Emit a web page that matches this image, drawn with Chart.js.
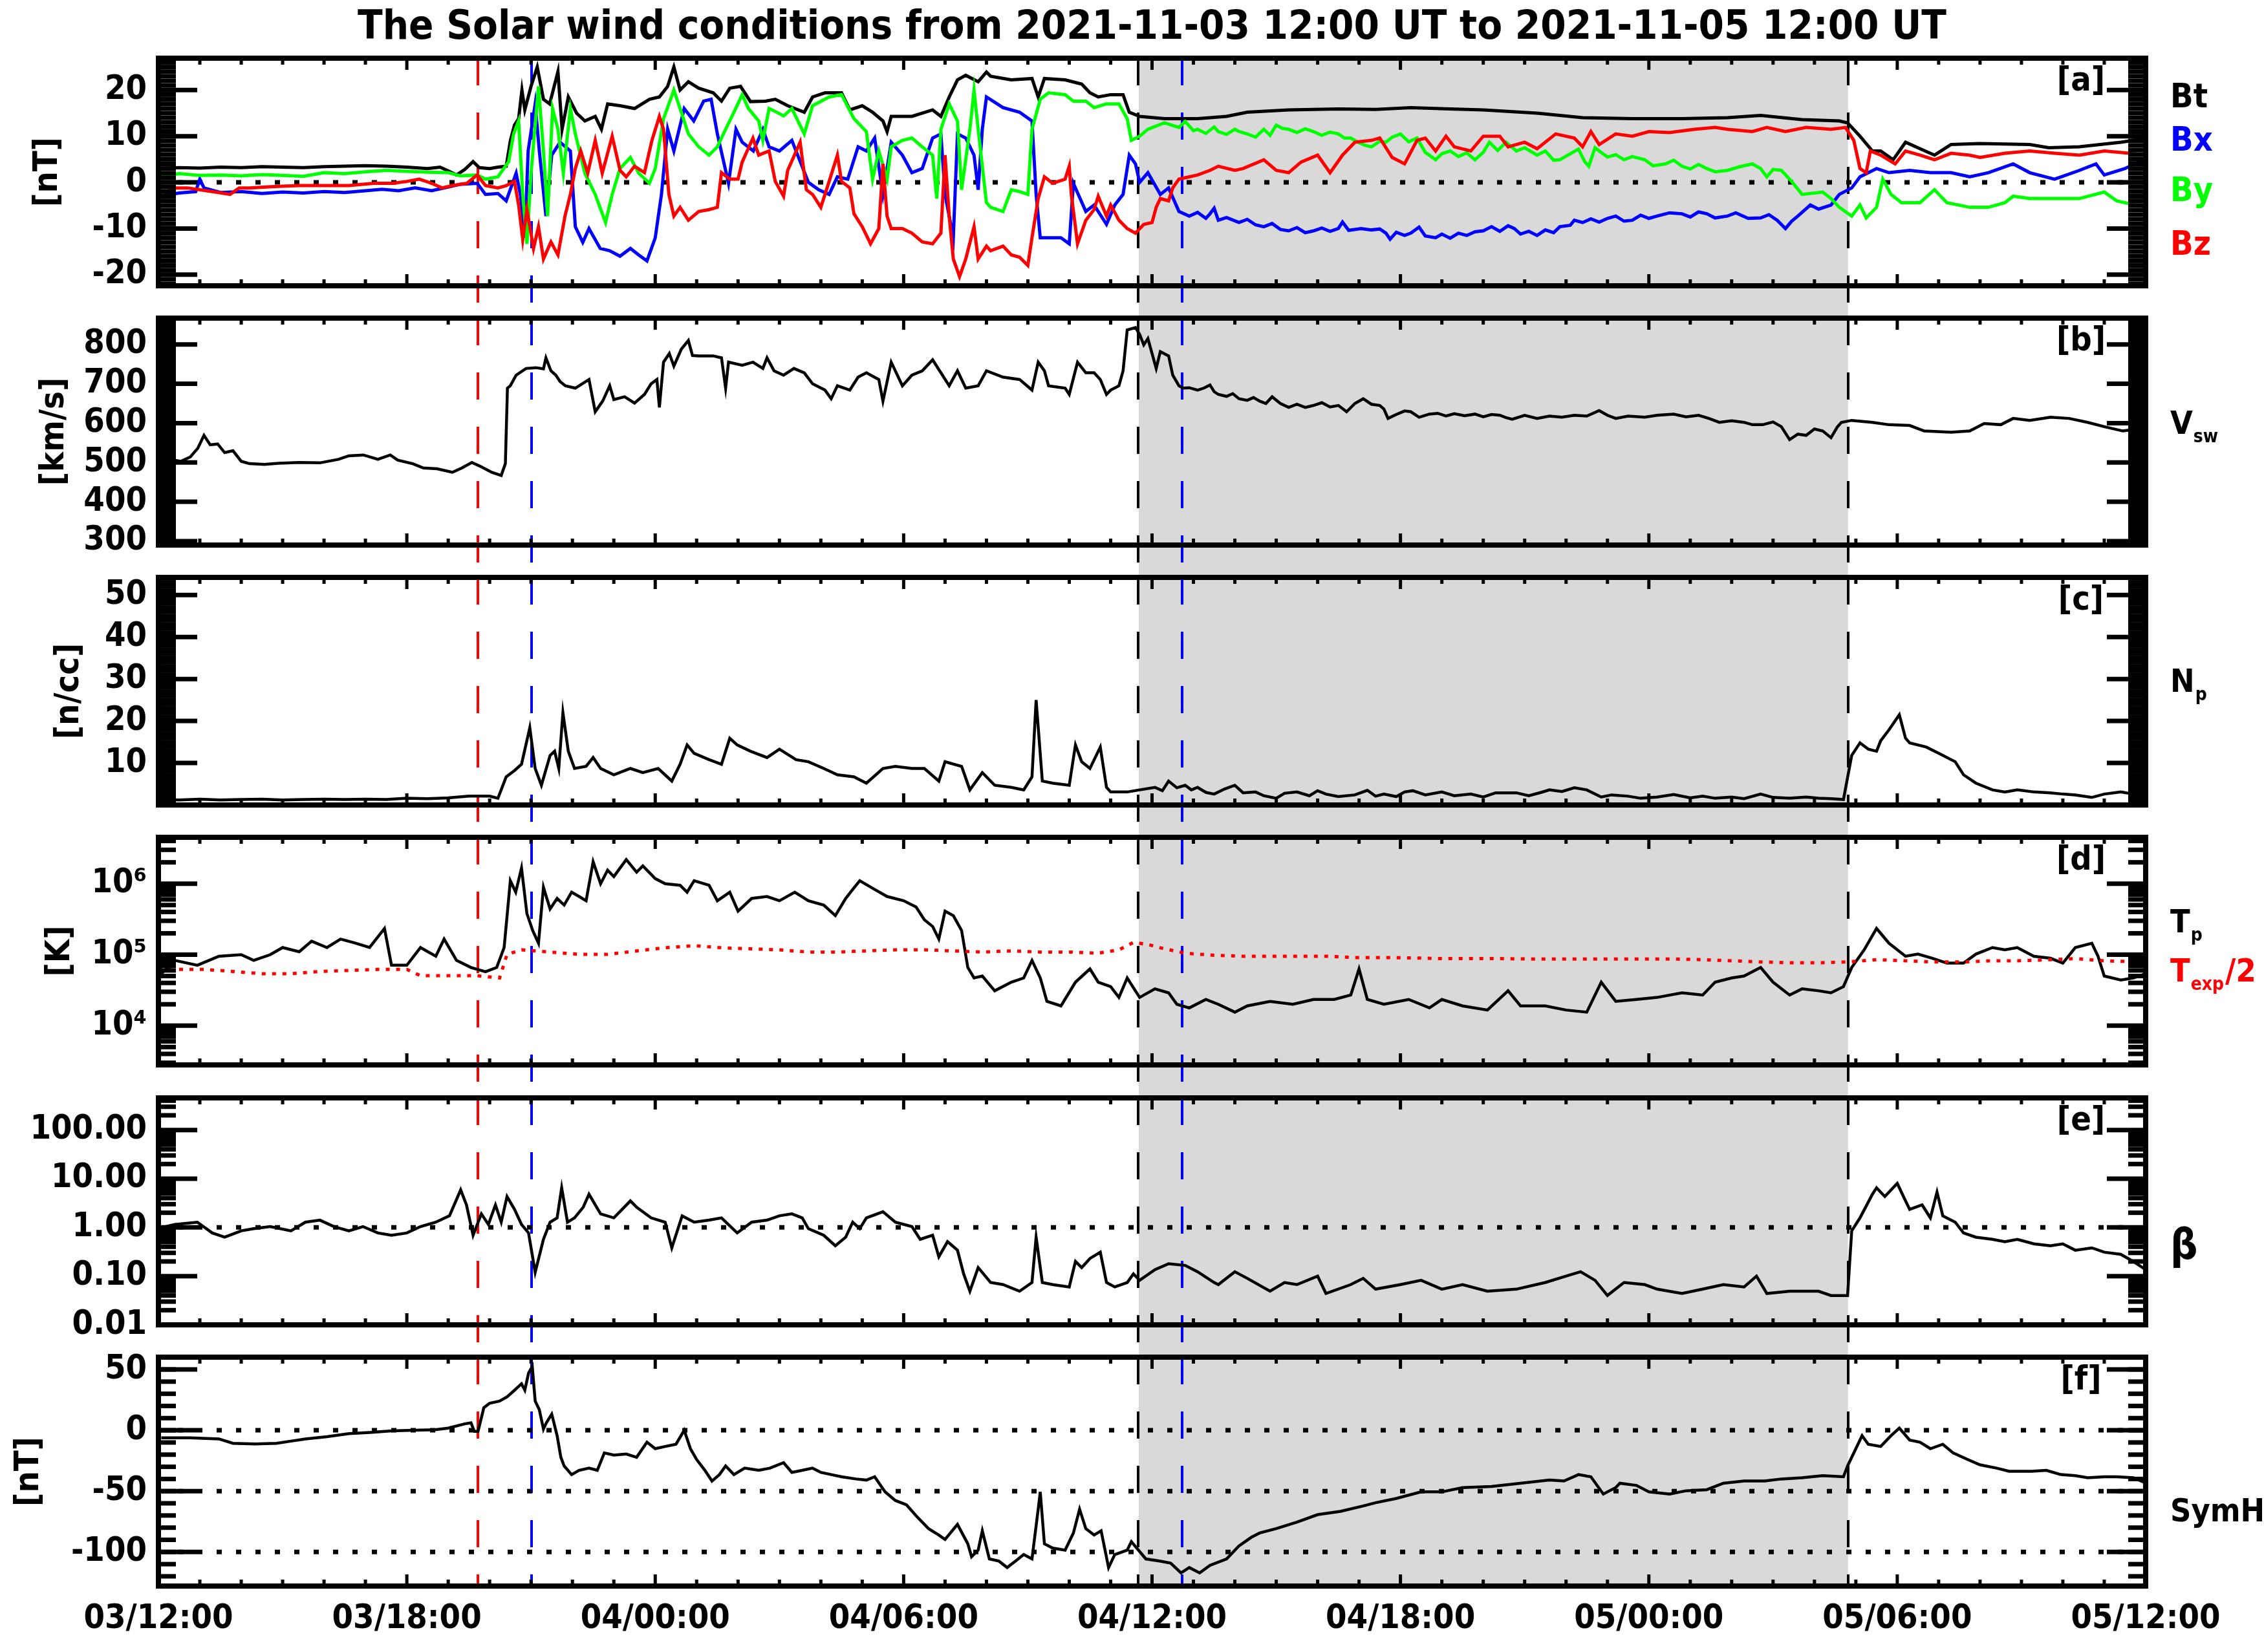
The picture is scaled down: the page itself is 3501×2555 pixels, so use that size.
<!DOCTYPE html>
<html><head><meta charset="utf-8">
<script src="https://cdn.jsdelivr.net/npm/chart.js@4.4.1/dist/chart.umd.min.js"></script>
<style>
html,body{margin:0;padding:0;background:#fff;width:3501px;height:2555px;overflow:hidden;}
canvas{position:absolute;left:0;}
</style></head><body>
<script>
// ---------------- DATA (hours after 2021-11-03 12:00 UT, value) ----------------
const X_TICK_HOURS = [0,6,12,18,24,30,36,42,48];
const X_TICK_LABELS = ['03/12:00','03/18:00','04/00:00','04/06:00','04/12:00','04/18:00','05/00:00','05/06:00','05/12:00'];
const EVENT_HOURS = [7.72, 9.01, 23.67, 24.73, 40.81];
const EVENT_COLORS = ['#ff0000','#0000ff','#000000','#0000ff','#000000'];
const SHADE_HOURS = [23.68, 40.81];

const BT = [[0,3.0],[0.5,3.2],[1,3.1],[1.5,3.3],[2,3.2],[2.5,3.4],[3,3.3],[3.5,3.2],[4,3.4],[4.5,3.5],[5,3.6],[5.5,3.5],[6,3.3],[6.5,3.0],[6.8,3.3],[7.0,2.5],[7.2,1.6],[7.4,2.8],[7.6,4.5],[7.75,3.2],[8.0,3.0],[8.2,3.3],[8.4,3.5],[8.5,9.0],[8.6,12.4],[8.7,13.8],[8.78,20],[8.85,15.7],[9.0,20.8],[9.15,25],[9.3,18],[9.45,17],[9.65,24],[9.75,11.5],[9.9,18.5],[10.1,15],[10.3,13.3],[10.55,14.3],[10.7,11.5],[10.85,17],[11.15,16.6],[11.5,16],[11.86,18],[12.1,18.5],[12.3,20.8],[12.45,25],[12.6,20],[12.8,21.8],[13.05,20.4],[13.4,19.4],[13.6,17.6],[13.8,20.4],[14.06,20.8],[14.3,17.5],[14.66,17.6],[14.9,18],[15.2,16.6],[15.6,15.2],[15.8,18.5],[16.1,19.4],[16.5,19.4],[16.7,15.7],[17.0,16.6],[17.25,15.2],[17.5,13.3],[17.6,11],[17.7,14.3],[18.2,14.3],[18.7,15.7],[18.9,14.3],[19.1,18.5],[19.3,22.2],[19.5,23.2],[19.8,21.8],[20.0,23.9],[20.1,23],[20.6,22.2],[21.1,22.5],[21.25,18.5],[21.4,22.5],[21.9,22.2],[22.3,21.3],[22.5,19.4],[22.7,18.5],[23.0,19],[23.3,19],[23.45,15.2],[23.7,14.3],[24.3,13.8],[25.1,13.8],[25.8,14.3],[26.3,15.2],[27.3,15.7],[28.5,15.9],[29.4,15.8],[30.25,16.2],[31.2,15.9],[32.0,15.7],[33.3,15],[34.4,14],[35.6,13.8],[36.8,13.8],[37.9,14],[38.7,14.5],[39.7,13.6],[40.6,13.3],[40.8,12.9],[41.1,10],[41.4,6.8],[41.6,6.8],[41.9,4.9],[42.2,8.7],[42.55,7.3],[42.9,5.9],[43.3,8.2],[44.0,8.4],[45.2,8.2],[45.66,7.5],[46.4,7.7],[47.4,8.7],[48,9.5]];

const BX = [[0,-3],[0.5,-2.3],[0.9,-2.0],[1.0,0.7],[1.1,-1.2],[1.5,-2.2],[2,-2.0],[2.5,-2.4],[3,-2.1],[3.5,-2.3],[4,-2.0],[4.5,-2.2],[5,-1.8],[5.4,-1.5],[5.8,-1.8],[6.2,-1.2],[6.6,-1.8],[7.0,-1.0],[7.3,-0.4],[7.7,-0.2],[7.9,-2.6],[8.2,-2.4],[8.4,-4],[8.64,2],[8.75,-3],[8.85,-12],[8.93,6.8],[9.1,17],[9.2,6.8],[9.36,-7.3],[9.5,5.9],[9.7,8.7],[9.95,6.8],[10.07,-9.6],[10.25,-13],[10.4,-10],[10.67,-14.3],[10.9,-14.8],[11.15,-16],[11.4,-14.3],[11.6,-15.7],[11.8,-17],[12.0,-12],[12.15,-2.6],[12.3,11.5],[12.45,6.8],[12.7,16],[12.93,13.3],[13.17,17.6],[13.35,18],[13.5,10.5],[13.77,-0.2],[13.95,11.5],[14.1,8.7],[14.37,6.8],[14.6,11.5],[14.75,7.7],[15.0,6.8],[15.3,9.1],[15.7,0],[15.95,-1.6],[16.2,-2.6],[16.4,1.2],[16.65,0.7],[16.9,7.7],[17.1,6.8],[17.3,9.6],[17.5,-2.6],[17.7,8.7],[17.97,5.9],[18.2,2.1],[18.45,3],[18.7,9.6],[18.9,10.5],[19.0,-2.6],[19.2,-12],[19.3,10.5],[19.5,9.6],[19.7,5.9],[19.8,-1.6],[19.9,11.5],[20.0,18.5],[20.4,16.2],[20.8,15.2],[21.1,13.3],[21.2,-2.6],[21.3,-12],[21.8,-12],[22.0,-13.3],[22.1,-0.2],[22.4,-6.3],[22.6,-4.9],[22.9,-9.1],[23.1,-4.9],[23.3,-2.6],[23.45,5.9],[23.6,4],[23.7,0],[23.9,2.1],[24.2,-2.6],[24.4,-1.2],[24.65,-6.3],[24.9,-7.3],[25.1,-6.5],[25.3,-7.8],[25.4,-6.8],[25.5,-5.6],[25.6,-8.2],[25.8,-7.6],[26.1,-8.7],[26.3,-8.0],[26.5,-9.2],[26.7,-9.6],[26.9,-8.9],[27.1,-10.2],[27.3,-10.5],[27.5,-9.8],[27.7,-10.9],[27.9,-10.5],[28.1,-9.9],[28.3,-10.6],[28.5,-10],[28.6,-8.6],[28.75,-10.4],[29.05,-10],[29.3,-10.3],[29.5,-10.1],[29.65,-11],[29.75,-12.3],[29.9,-10.8],[30.1,-11.5],[30.25,-11],[30.45,-9.7],[30.6,-11.6],[30.85,-12],[31.0,-11.2],[31.2,-12.1],[31.4,-11],[31.6,-11.5],[31.8,-10.7],[32.0,-10.5],[32.2,-9.6],[32.4,-10.6],[32.6,-9.4],[32.75,-10],[32.9,-11.2],[33.1,-10.6],[33.3,-11.5],[33.5,-10.3],[33.7,-10.9],[33.85,-9.6],[34.1,-9.3],[34.2,-8.2],[34.4,-8.7],[34.6,-7.9],[34.8,-8.6],[35.0,-7.8],[35.2,-7.3],[35.4,-8.4],[35.6,-8.2],[35.8,-7.1],[36.0,-7.8],[36.2,-7.3],[36.5,-6.6],[36.8,-6.8],[37.0,-7.5],[37.2,-6.4],[37.4,-6.8],[37.6,-7.7],[37.9,-7.3],[38.1,-6.6],[38.4,-7.8],[38.7,-7.7],[38.9,-7.0],[39.1,-8.2],[39.3,-10],[39.45,-8.4],[39.6,-7.3],[39.9,-4.9],[40.1,-5.8],[40.4,-4.9],[40.6,-2.6],[40.9,-1.2],[41.1,1.2],[41.5,3],[41.8,2.1],[42.3,2.6],[42.8,2.1],[43.3,2.1],[43.75,1.2],[44.2,2.1],[44.8,4],[45.2,2.1],[45.8,0.7],[46.4,2.6],[46.8,4],[47.0,1.6],[47.5,3],[48,5.2]];

const BY = [[0,1.2],[0.5,1.9],[1,1.5],[1.5,1.6],[2,1.4],[2.5,1.7],[3,1.5],[3.5,1.3],[4,2.1],[4.5,1.9],[5,2.3],[5.5,2.6],[6,2.4],[6.5,2.2],[7,2.1],[7.3,1.4],[7.7,1.6],[7.9,0.7],[8.2,1.2],[8.46,4.5],[8.58,10.5],[8.7,13.3],[8.8,-2.6],[8.9,-13.3],[9.0,2],[9.18,20.8],[9.3,6.8],[9.4,-7.3],[9.52,16],[9.65,11.5],[9.78,2],[9.95,16],[10.07,10.5],[10.3,2],[10.55,-2.6],[10.8,-8.7],[10.96,-2.6],[11.15,3],[11.4,5.4],[11.6,2],[11.86,-0.2],[12.0,3],[12.2,13.8],[12.45,20],[12.6,16],[12.8,10.5],[13.05,7.7],[13.3,5.9],[13.5,7.7],[13.7,11.5],[13.9,15.2],[14.1,19],[14.25,16],[14.5,13.3],[14.6,9.1],[14.75,16],[14.87,15.5],[15.1,14.4],[15.3,16],[15.6,10.5],[15.8,16.6],[16.2,18.5],[16.5,19],[16.8,13.8],[17.1,11],[17.25,0.7],[17.4,6.8],[17.6,0.7],[17.7,7.7],[17.97,9.1],[18.2,9.6],[18.45,7.7],[18.7,5.9],[18.8,-3.5],[18.9,11.5],[19.1,17],[19.3,13.3],[19.4,-1.6],[19.6,11.5],[19.7,20],[19.8,11.5],[20.0,-4.4],[20.1,-5.4],[20.4,-6.3],[20.6,-1.6],[20.8,-2],[21.0,-2.6],[21.1,11.5],[21.3,18],[21.5,19.4],[21.9,19],[22.1,17.6],[22.4,17.6],[22.6,16.2],[22.9,17],[23.2,17],[23.4,13.8],[23.5,9.1],[23.7,10],[23.9,11.5],[24.3,12.9],[24.65,11.9],[24.8,13.2],[25.0,11.2],[25.1,11.5],[25.3,10.6],[25.5,12.0],[25.6,11],[25.8,10.4],[26.0,11.5],[26.1,11],[26.3,10.5],[26.5,9.8],[26.7,11.5],[26.85,10.2],[27.0,12.4],[27.15,11.7],[27.3,11.5],[27.5,10.8],[27.7,11.6],[27.9,11],[28.1,10.2],[28.3,10.9],[28.5,10.5],[28.65,9.6],[28.8,9.6],[29.0,8.6],[29.15,8.0],[29.3,7.7],[29.5,8.9],[29.65,8.7],[29.8,9.8],[30.0,10.5],[30.2,8.8],[30.4,9.6],[30.6,6.5],[30.85,4.9],[31.0,6.2],[31.2,6.8],[31.4,5.6],[31.6,6.4],[31.8,4.9],[32.0,6.5],[32.15,8.7],[32.35,6.9],[32.55,8.7],[32.8,6.8],[33.0,7.5],[33.3,5.9],[33.5,6.8],[33.7,4.8],[33.85,4.9],[34.1,6.2],[34.3,7.2],[34.45,4.5],[34.55,3.5],[34.7,7.5],[34.8,6.8],[35.0,5.5],[35.2,6.0],[35.4,4.9],[35.6,5.6],[35.9,4.9],[36.1,3.6],[36.4,4],[36.6,4.8],[36.8,3.5],[37.0,2.9],[37.2,3.9],[37.4,3],[37.6,2.3],[37.9,2.6],[38.2,3.4],[38.5,4],[38.7,3.0],[38.85,1.2],[39.0,2.8],[39.2,2.6],[39.45,0.2],[39.7,-2.6],[40.2,-2.1],[40.4,-3.5],[40.6,-5.4],[40.9,-7.3],[41.1,-4.9],[41.25,-7.7],[41.5,-5.4],[41.65,0.7],[41.85,-2.6],[42.1,-4.4],[42.55,-4.4],[42.9,-1.6],[43.2,-4.4],[43.75,-5.4],[44.2,-5.4],[44.6,-4.4],[44.8,-3],[45.2,-3.5],[45.8,-3.5],[46.4,-3.5],[47.0,-2.1],[47.3,-4],[48,-5.4]];

const BZ = [[0,-0.7],[0.3,-1.2],[0.7,-1.2],[1.0,-1.6],[1.37,-2.1],[1.73,-2.6],[1.95,-1.2],[2.2,-1.2],[2.8,-0.9],[3.4,-0.7],[4.0,-0.7],[4.6,-0.7],[5.2,-0.2],[5.66,-0.2],[6.0,0.2],[6.3,0.7],[6.6,-0.2],[6.85,-1.2],[7.1,-0.7],[7.45,-0.2],[7.7,1.6],[7.9,-0.7],[8.2,-1.2],[8.4,-0.7],[8.6,0.2],[8.7,-4.9],[8.8,-12.4],[8.9,-5.9],[9.06,-14.3],[9.18,-9.6],[9.3,-16.6],[9.48,-12.9],[9.65,-15.7],[9.82,-7.3],[9.95,-2.6],[10.07,3],[10.2,6.8],[10.37,2],[10.55,9.1],[10.72,2],[10.96,10],[11.15,2.6],[11.3,1.2],[11.5,3.5],[11.74,2.1],[11.92,9.1],[12.1,14.3],[12.2,11.5],[12.33,-2.6],[12.45,-7.3],[12.6,-5.4],[12.8,-8.2],[13.05,-6.3],[13.3,-5.9],[13.5,-5.4],[13.6,2.1],[13.8,0.7],[14.0,0.7],[14.1,4.4],[14.36,9.6],[14.5,5.9],[14.75,6.8],[14.9,0.2],[15.1,-3],[15.2,2.6],[15.5,8.7],[15.65,-1.6],[15.8,-2.6],[16.0,-5.4],[16.2,0.2],[16.4,5.9],[16.5,0.2],[16.7,-1.2],[16.8,-6.8],[17.0,-9.6],[17.2,-13.3],[17.4,-10],[17.5,4],[17.6,-7.3],[17.7,-10],[17.97,-10],[18.2,-11],[18.45,-12.9],[18.7,-13.3],[18.9,-11],[19.0,5.9],[19.1,-7.3],[19.2,-16.6],[19.35,-20.4],[19.5,-16.6],[19.7,-9.6],[19.8,-16.6],[20.0,-13.8],[20.1,-14.8],[20.4,-13.8],[20.6,-15.7],[20.8,-16.2],[21.0,-18],[21.1,-12],[21.25,-3.5],[21.4,1.2],[21.6,-0.2],[21.9,0.7],[22.0,3.5],[22.05,-2.6],[22.2,-13.3],[22.4,-8.2],[22.6,-5.9],[22.7,-3],[22.9,-7.3],[23.0,-4.9],[23.2,-8.2],[23.4,-10],[23.6,-11],[23.8,-9.1],[24.0,-8.7],[24.1,-5.4],[24.2,-3.5],[24.4,-4],[24.5,-1.2],[24.65,0.7],[24.9,1.2],[25.1,1.6],[25.4,2.6],[25.6,3.5],[26.0,2.6],[26.2,3],[26.7,4.9],[27.0,2.6],[27.3,2.1],[27.6,4.4],[28.0,5.9],[28.3,2.1],[28.6,5.9],[28.9,8.7],[29.3,9.1],[29.5,9.6],[29.8,5.4],[30.1,4],[30.4,9.1],[30.6,9.6],[30.85,6.8],[31.1,10],[31.3,7.7],[31.7,6.8],[32.0,10],[32.4,10],[32.6,7.7],[33.0,8.7],[33.3,7.3],[33.75,10.5],[34.2,9.6],[34.4,7.7],[34.6,11],[34.8,8.2],[35.2,10.5],[35.6,10],[36.0,11],[36.5,10.8],[37.1,11.5],[37.6,11.9],[37.9,11.5],[38.5,11],[38.85,11.9],[39.3,11],[39.8,11.9],[40.4,11.5],[40.75,11.9],[40.95,9.1],[41.1,3],[41.25,2.1],[41.35,6.8],[41.6,5.9],[41.95,4],[42.2,6.8],[42.55,5.9],[42.9,4.9],[43.3,6.3],[43.75,5.9],[44.0,5.4],[44.6,6.3],[45.2,6.8],[45.8,6.3],[46.4,5.9],[47.0,6.8],[47.6,6.3],[48,5.9]];

const VSW = [[0,500],[0.25,508],[0.54,503],[0.77,514],[0.95,536],[1.1,569],[1.25,545],[1.43,547],[1.6,525],[1.8,530],[2.0,503],[2.2,497],[2.56,495],[2.9,498],[3.4,500],[3.9,499],[4.35,508],[4.6,517],[4.95,519],[5.3,508],[5.6,519],[5.78,506],[6.14,497],[6.4,486],[6.73,484],[7.1,475],[7.33,486],[7.57,500],[7.8,489],[8.05,475],[8.28,467],[8.38,497],[8.43,689],[8.5,695],[8.64,722],[8.88,739],[9.12,741],[9.3,738],[9.36,766],[9.48,733],[9.6,722],[9.7,706],[9.83,695],[10.07,689],[10.4,711],[10.55,629],[10.73,656],[10.9,695],[11.0,660],[11.26,667],[11.5,651],[11.74,673],[11.9,700],[12.04,711],[12.1,640],[12.2,755],[12.34,777],[12.45,745],[12.63,788],[12.8,810],[12.9,772],[13.05,771],[13.4,771],[13.6,766],[13.7,689],[13.77,755],[14.1,747],[14.36,755],[14.6,739],[14.7,766],[14.87,733],[15.1,722],[15.35,739],[15.6,728],[15.8,700],[16.1,684],[16.25,662],[16.4,695],[16.7,684],[16.9,717],[17.1,728],[17.4,711],[17.5,656],[17.7,755],[17.97,695],[18.2,722],[18.45,733],[18.7,761],[18.9,728],[19.1,695],[19.3,733],[19.5,689],[19.8,695],[20.0,733],[20.4,717],[20.8,711],[21.1,684],[21.25,755],[21.4,733],[21.5,695],[21.9,689],[22.0,673],[22.2,755],[22.4,728],[22.6,728],[22.75,711],[22.9,673],[23.0,684],[23.2,695],[23.3,733],[23.4,837],[23.6,843],[23.7,826],[23.8,799],[23.9,815],[24.1,739],[24.2,782],[24.4,771],[24.5,722],[24.65,695],[24.75,689],[24.9,690],[25.1,684],[25.25,689],[25.4,697],[25.5,680],[25.6,673],[25.8,668],[25.95,675],[26.1,662],[26.3,658],[26.45,665],[26.6,656],[26.75,650],[26.9,667],[27.1,650],[27.3,640],[27.5,648],[27.7,640],[27.9,645],[28.1,652],[28.3,641],[28.5,645],[28.7,629],[28.9,650],[29.1,662],[29.3,648],[29.5,645],[29.6,636],[29.7,612],[29.9,622],[30.1,631],[30.25,629],[30.45,615],[30.7,623],[30.9,625],[31.1,618],[31.3,624],[31.55,619],[31.8,623],[32.0,616],[32.2,622],[32.4,620],[32.55,614],[32.7,610],[33.0,620],[33.3,612],[33.6,618],[33.9,615],[34.2,620],[34.5,618],[34.8,632],[35.0,620],[35.2,612],[35.5,618],[35.9,615],[36.2,620],[36.6,623],[36.9,616],[37.2,620],[37.45,612],[37.7,602],[38.0,606],[38.3,602],[38.5,596],[38.75,596],[39.0,603],[39.2,591],[39.4,558],[39.6,572],[39.8,569],[40.0,585],[40.2,580],[40.4,563],[40.55,590],[40.65,602],[40.9,607],[41.4,602],[41.8,596],[42.3,594],[42.65,580],[43.3,577],[43.75,580],[44.1,599],[44.5,596],[44.8,612],[45.2,607],[45.7,615],[46.15,612],[46.6,602],[47.0,591],[47.45,580],[47.8,585],[48,588]];

const NP = [[0,1.3],[0.5,1.2],[1,1.4],[1.5,1.2],[2,1.3],[2.5,1.4],[3,1.2],[3.5,1.3],[4,1.4],[4.5,1.3],[5,1.4],[5.5,1.3],[6,1.6],[6.5,1.5],[7,1.7],[7.5,2.1],[8,2.1],[8.2,1.6],[8.4,6.7],[8.6,8.2],[8.77,9.7],[8.97,18.4],[9.1,8.7],[9.25,4.7],[9.46,11.8],[9.57,12.8],[9.67,8.7],[9.77,22],[9.9,12.8],[10.05,8.7],[10.33,9.2],[10.5,11.3],[10.68,8.7],[11.0,7.2],[11.4,8.7],[11.7,7.7],[12.07,8.7],[12.4,5.7],[12.6,9.7],[12.77,14.3],[12.94,12.3],[13.3,10.8],[13.6,9.7],[13.8,15.9],[13.98,14.3],[14.3,12.8],[14.7,11.3],[15.0,13.3],[15.4,10.8],[15.7,10.3],[16.07,8.7],[16.4,7.2],[16.8,6.7],[17.1,5.2],[17.5,8.7],[17.8,9.2],[18.2,8.7],[18.5,8.7],[18.85,5.7],[19.0,10.3],[19.4,9.2],[19.6,3.6],[19.9,7.7],[20.2,4.7],[20.6,4.2],[20.9,3.6],[21.1,6.7],[21.2,25],[21.35,5.7],[21.6,5.2],[22.0,4.7],[22.15,14.3],[22.3,10.3],[22.5,8.7],[22.75,13.8],[22.9,4.2],[23.0,3.1],[23.4,3.1],[23.7,3.6],[24.07,4.2],[24.25,3.4],[24.4,5.7],[24.6,4.1],[24.8,4.7],[24.95,3.6],[25.1,4.2],[25.3,3.0],[25.5,2.6],[25.75,3.8],[26.0,4.7],[26.2,2.9],[26.5,3.1],[26.7,2.2],[27.0,1.6],[27.2,2.8],[27.5,3.1],[27.8,2.2],[28.0,3.4],[28.2,2.6],[28.5,2.0],[28.9,2.4],[29.2,3.5],[29.4,2.1],[29.6,2.6],[29.9,2.0],[30.1,3.1],[30.3,3.4],[30.6,2.4],[31.0,3.1],[31.3,2.2],[31.7,2.6],[32.0,1.9],[32.3,2.9],[32.8,2.9],[33.1,2.2],[33.4,3.0],[33.6,3.6],[33.9,3.2],[34.2,4.1],[34.5,3.6],[34.85,1.9],[35.1,2.4],[35.5,2.1],[35.8,1.6],[36.2,1.9],[36.6,2.5],[37.0,1.7],[37.3,2.1],[37.6,1.6],[38.0,1.9],[38.3,1.5],[38.7,2.6],[39.0,1.8],[39.4,1.6],[39.8,1.9],[40.1,1.6],[40.4,1.5],[40.7,1.3],[40.9,11.8],[41.1,14.8],[41.3,13.3],[41.5,12.8],[41.6,15.3],[41.8,17.9],[42.05,21.5],[42.2,15.9],[42.3,14.8],[42.7,13.8],[43.0,12.3],[43.4,10.3],[43.6,7.2],[43.9,5.2],[44.3,3.6],[44.6,3.1],[44.9,3.6],[45.3,3.1],[45.7,2.9],[46.0,2.6],[46.3,2.4],[46.7,1.8],[47.0,2.6],[47.4,3.1],[47.7,2.6],[48,2.4]];

const TP = [[0.07,5.37e4],[0.4,8.3e4],[0.94,7.1e4],[1.46,9.5e4],[2.0,1.0e5],[2.3,8.3e4],[2.7,1.0e5],[3.0,1.26e5],[3.4,1.1e5],[3.7,1.55e5],[4.07,1.26e5],[4.4,1.66e5],[4.77,1.45e5],[5.1,1.26e5],[5.46,2.34e5],[5.63,7.1e4],[6.0,7.1e4],[6.33,1.26e5],[6.7,9.5e4],[6.9,1.66e5],[7.2,8.3e4],[7.55,6.6e4],[7.9,5.75e4],[8.17,6.6e4],[8.35,1.26e5],[8.5,1.1e6],[8.63,7.6e5],[8.77,1.66e6],[8.9,3.8e5],[9.04,2.19e5],[9.18,1.45e5],[9.3,8.9e5],[9.46,4.4e5],[9.63,6.2e5],[9.8,5.0e5],[9.98,7.6e5],[10.16,6.6e5],[10.33,5.75e5],[10.5,2.04e6],[10.68,1.0e6],[10.85,1.55e6],[11.0,1.26e6],[11.3,2.19e6],[11.55,1.45e6],[11.7,1.78e6],[12.0,1.18e6],[12.24,1.0e6],[12.6,9.5e5],[12.77,7.6e5],[12.94,1.1e6],[13.3,9.5e5],[13.5,5.75e5],[13.8,7.6e5],[14.0,4.1e5],[14.33,6.2e5],[14.7,6.6e5],[15.0,5.75e5],[15.37,7.6e5],[15.7,5.75e5],[16.07,5.0e5],[16.35,3.55e5],[16.6,6.2e5],[16.77,8.3e5],[16.94,1.1e6],[17.3,8.3e5],[17.6,6.6e5],[18.0,5.75e5],[18.3,4.7e5],[18.5,3.1e5],[18.7,2.5e5],[18.85,1.66e5],[19.0,4.1e5],[19.2,3.55e5],[19.4,2.19e5],[19.55,6.6e4],[19.7,4.7e4],[19.9,5.0e4],[20.2,3.1e4],[20.6,4.1e4],[20.9,4.7e4],[21.1,8.3e4],[21.3,4.7e4],[21.46,2.2e4],[21.8,1.9e4],[22.15,4.1e4],[22.5,6.3e4],[22.7,4.1e4],[23.0,3.55e4],[23.2,2.5e4],[23.4,4.7e4],[23.7,2.5e4],[24.07,3.3e4],[24.4,2.9e4],[24.6,2.0e4],[24.9,1.78e4],[25.3,2.34e4],[25.6,2.0e4],[26.0,1.55e4],[26.3,1.9e4],[26.85,2.2e4],[27.4,2.0e4],[27.9,2.34e4],[28.4,2.34e4],[28.8,2.7e4],[29.0,6.3e4],[29.2,2.34e4],[29.6,2.0e4],[30.2,2.34e4],[30.7,1.78e4],[31.0,2.34e4],[31.5,1.9e4],[32.1,1.66e4],[32.6,3.1e4],[32.9,1.9e4],[33.5,1.9e4],[34.0,1.66e4],[34.5,1.55e4],[34.85,4.1e4],[35.2,2.2e4],[35.7,2.34e4],[36.2,2.5e4],[36.8,2.9e4],[37.3,2.7e4],[37.6,4.1e4],[38.0,4.7e4],[38.3,5.0e4],[38.7,6.6e4],[39.0,4.1e4],[39.4,2.7e4],[39.7,3.3e4],[40.1,3.1e4],[40.4,2.9e4],[40.7,3.55e4],[40.9,6.6e4],[41.2,1.17e5],[41.5,2.34e5],[41.8,1.45e5],[42.2,9.5e4],[42.5,1.02e5],[42.85,8.9e4],[43.2,7.6e4],[43.6,7.6e4],[43.9,1.02e5],[44.3,1.26e5],[44.6,1.17e5],[44.9,1.26e5],[45.3,9.5e4],[45.7,8.9e4],[46.0,7.6e4],[46.3,1.26e5],[46.7,1.45e5],[46.85,9.5e4],[47.0,5.0e4],[47.4,4.4e4],[47.7,4.7e4],[48,5.4e4]];

const TEXP_HALF = [[0,6.2e4],[1.1,6.2e4],[1.8,5.8e4],[2.5,5.4e4],[3.2,5.4e4],[3.9,5.8e4],[4.6,6.0e4],[5.3,6.2e4],[6.0,6.2e4],[6.33,5.05e4],[7.0,5.05e4],[7.7,5.05e4],[8.24,4.7e4],[8.42,1.01e5],[8.77,1.17e5],[9.46,1.09e5],[10.16,1.01e5],[10.85,1.01e5],[11.55,1.13e5],[12.24,1.25e5],[12.94,1.34e5],[13.6,1.25e5],[14.3,1.21e5],[15.0,1.17e5],[15.7,1.09e5],[16.4,1.09e5],[17.1,1.13e5],[17.8,1.17e5],[18.5,1.17e5],[19.2,1.13e5],[19.9,1.09e5],[20.6,1.13e5],[21.3,1.09e5],[22.0,1.09e5],[22.7,1.05e5],[23.2,1.17e5],[23.55,1.49e5],[23.9,1.39e5],[24.2,1.25e5],[24.8,1.05e5],[25.5,9.8e4],[26.2,9.5e4],[26.85,9.5e4],[27.5,9.5e4],[28.2,9.5e4],[28.9,9.1e4],[29.6,9.1e4],[30.3,9.0e4],[31.0,8.8e4],[31.7,8.8e4],[32.4,8.8e4],[33.1,8.7e4],[33.8,8.7e4],[34.5,8.7e4],[35.2,8.7e4],[35.9,8.7e4],[36.6,8.7e4],[37.3,8.5e4],[38.0,8.2e4],[38.7,7.9e4],[39.4,7.7e4],[40.1,7.7e4],[40.8,7.9e4],[41.5,8.5e4],[42.2,8.2e4],[42.85,7.9e4],[43.6,7.9e4],[44.3,8.2e4],[44.9,8.2e4],[45.7,8.5e4],[46.3,8.8e4],[47.0,8.2e4],[48,7.9e4]];

const BETA = [[0.07,0.99],[0.4,1.15],[0.94,1.28],[1.3,0.77],[1.6,0.63],[2.0,0.85],[2.3,0.94],[2.7,1.04],[3.2,0.85],[3.55,1.28],[3.9,1.41],[4.24,1.04],[4.6,0.85],[4.94,1.04],[5.3,0.77],[5.63,0.69],[6.0,0.77],[6.33,1.04],[6.7,1.28],[7.03,1.73],[7.3,5.9],[7.44,2.9],[7.6,0.69],[7.8,1.9],[7.97,1.15],[8.14,2.9],[8.28,1.28],[8.42,4.3],[8.6,2.35],[8.77,1.15],[8.94,0.77],[9.1,0.12],[9.3,0.57],[9.46,1.28],[9.63,1.57],[9.74,6.5],[9.88,1.28],[10.05,1.57],[10.26,2.6],[10.4,4.8],[10.68,1.9],[11.0,1.57],[11.4,3.5],[11.55,2.6],[11.9,1.57],[12.24,1.28],[12.4,0.38],[12.65,1.73],[12.94,1.28],[13.3,1.41],[13.6,1.57],[13.98,0.77],[14.33,1.28],[14.7,1.41],[15.0,1.73],[15.3,1.9],[15.55,1.57],[15.7,0.94],[16.07,0.69],[16.35,0.42],[16.6,0.63],[16.77,1.28],[16.94,0.94],[17.1,1.57],[17.5,2.1],[17.8,1.28],[18.2,1.04],[18.4,0.57],[18.7,0.69],[18.85,0.25],[19.06,0.51],[19.3,0.34],[19.45,0.111],[19.6,0.049],[19.8,0.15],[20.1,0.074],[20.4,0.067],[20.8,0.049],[21.1,0.074],[21.2,0.63],[21.35,0.074],[21.6,0.067],[22.0,0.06],[22.15,0.2],[22.3,0.15],[22.5,0.23],[22.75,0.31],[22.9,0.074],[23.1,0.06],[23.4,0.074],[23.55,0.111],[23.7,0.082],[24.07,0.136],[24.4,0.18],[24.8,0.166],[25.1,0.123],[25.5,0.074],[25.6,0.067],[26.0,0.123],[26.3,0.09],[26.85,0.049],[27.2,0.074],[27.5,0.067],[28.0,0.1],[28.2,0.044],[28.8,0.067],[29.1,0.09],[29.4,0.054],[30.0,0.067],[30.5,0.082],[31.0,0.054],[31.5,0.067],[32.1,0.049],[32.8,0.054],[33.5,0.074],[34.0,0.1],[34.35,0.123],[34.7,0.082],[35.0,0.04],[35.4,0.074],[35.9,0.067],[36.2,0.054],[36.8,0.044],[37.3,0.054],[37.8,0.067],[38.3,0.06],[38.6,0.1],[38.85,0.044],[39.4,0.049],[40.1,0.049],[40.4,0.04],[40.8,0.04],[40.9,0.85],[41.1,1.57],[41.4,4.8],[41.5,6.5],[41.7,4.3],[42.0,8.0],[42.2,3.5],[42.3,2.35],[42.6,2.9],[42.8,1.57],[42.96,5.3],[43.1,1.73],[43.4,1.28],[43.6,0.77],[43.9,0.63],[44.3,0.57],[44.6,0.51],[44.9,0.57],[45.3,0.46],[45.7,0.42],[46.0,0.46],[46.3,0.34],[46.7,0.38],[47.0,0.31],[47.4,0.28],[47.7,0.2],[48,0.136]];

const SYMH = [[0.07,-6.2],[0.77,-6.2],[1.46,-7.1],[1.8,-10.7],[2.33,-11.2],[2.85,-10.7],[3.2,-8.9],[3.55,-7.1],[4.07,-5.3],[4.6,-2.7],[5.1,-1.8],[5.63,-0.5],[6.16,0],[6.68,0.5],[7.0,1.8],[7.4,5.3],[7.55,6.2],[7.63,-0.9],[7.72,-0.9],[7.86,18.6],[8.0,22.2],[8.24,24],[8.42,27.5],[8.6,32.9],[8.77,38.2],[8.85,33],[8.94,47],[9.03,52.4],[9.1,24],[9.2,16.9],[9.3,0.9],[9.37,6.2],[9.5,13.3],[9.63,-4.4],[9.72,-22.2],[9.8,-29.3],[9.98,-36.4],[10.16,-32.9],[10.4,-31.1],[10.6,-32.9],[10.77,-18.6],[11.0,-20.4],[11.3,-19.5],[11.55,-22.2],[11.8,-9.8],[12.0,-15.1],[12.24,-13.3],[12.5,-11.5],[12.7,0],[12.85,-15.1],[13.0,-24],[13.2,-32.9],[13.37,-41.7],[13.55,-36.4],[13.7,-29.3],[13.9,-36.4],[14.16,-31.1],[14.5,-32.9],[14.77,-31.1],[15.1,-26.6],[15.3,-34.6],[15.55,-32.9],[15.8,-31.1],[16.0,-34.6],[16.25,-36.4],[16.5,-38.2],[16.85,-40],[17.1,-40.9],[17.3,-38.2],[17.55,-50.6],[17.8,-57.7],[18.07,-61.3],[18.3,-70.2],[18.6,-80.8],[18.85,-86.1],[19.0,-89.7],[19.3,-77.3],[19.55,-93.3],[19.64,-103.9],[19.8,-98.5],[19.9,-82.6],[20.07,-105.7],[20.3,-107.5],[20.5,-112.8],[20.7,-107.5],[20.9,-102.1],[21.1,-105.7],[21.25,-64.8],[21.3,-50.6],[21.4,-93.3],[21.6,-96.8],[21.9,-98.5],[22.1,-84.4],[22.25,-64.8],[22.4,-80.8],[22.6,-86.1],[22.77,-82.6],[22.95,-112.8],[23.1,-102.1],[23.4,-98.5],[23.5,-91.5],[23.85,-105.7],[24.2,-107.5],[24.45,-109.2],[24.7,-117.2],[24.9,-112.8],[25.15,-117.2],[25.4,-111],[25.8,-105.7],[26.1,-95],[26.4,-87.9],[26.6,-84.4],[27.0,-80.8],[27.5,-75.5],[28.0,-69.3],[28.55,-66.6],[29.1,-62.2],[29.4,-59.5],[29.9,-56],[30.5,-50.6],[31.0,-50.6],[31.5,-47.1],[32.2,-46.2],[32.9,-43.5],[33.6,-40.9],[33.95,-41.7],[34.3,-36.4],[34.6,-38.2],[34.9,-52.4],[35.2,-47.1],[35.3,-43.5],[35.7,-45.3],[36.0,-50.6],[36.5,-52.4],[36.9,-49.7],[37.4,-48.8],[37.8,-43.5],[38.3,-41.7],[38.8,-41.7],[39.2,-40],[39.7,-39],[40.2,-37.3],[40.7,-38.2],[40.8,-29.3],[41.0,-15.1],[41.15,-4.4],[41.3,-11.5],[41.6,-13.3],[41.85,-4.4],[42.05,1.8],[42.3,-8],[42.55,-9.8],[42.8,-15.1],[43.1,-11.5],[43.35,-18.6],[43.7,-24],[44.0,-28.4],[44.4,-31.1],[44.7,-33.7],[45.25,-33.7],[45.6,-32.9],[45.95,-36.4],[46.3,-37.3],[46.6,-39],[47.0,-38.2],[47.3,-38.2],[47.7,-39],[47.95,-42.6]];

// tick values / labels per panel
const B_TICKS = [-20,-10,0,10,20];
const V_TICKS = [300,400,500,600,700,800];
const N_TICKS = [10,20,30,40,50];
const T_TICKS = [1e4,1e5,1e6];
const T_TICK_LABELS = ['10\u2074','10\u2075','10\u2076'];
const BETA_TICKS = [0.01,0.1,1,10,100];
const BETA_TICK_LABELS = ['0.01','0.10','1.00','10.00','100.00'];
const SYMH_TICKS = [-100,-50,0,50];

// ---------------- RENDERING ----------------
const FONT = '"DejaVu Sans Condensed", "Liberation Sans Narrow", "DejaVu Sans", sans-serif';
Chart.defaults.font.family = FONT;

const toPts = arr => arr.map(p => ({x: p[0], y: p[1]}));

function minorValues(p){
  const out = [];
  if (p.log){
    for (let d = Math.floor(Math.log10(p.min)); d <= Math.ceil(Math.log10(p.max)); d++){
      for (let m = 2; m <= 9; m++){ const v = m*Math.pow(10,d); if (v > p.min && v < p.max) out.push(v); }
    }
  } else {
    for (let v = Math.ceil(p.min/p.minorStep)*p.minorStep; v <= p.max; v += p.minorStep) out.push(v);
  }
  return out;
}

function drawLabel(ctx, l, x, yc){
  const size = l.size || 52;
  ctx.fillStyle = l.color || '#000';
  ctx.textAlign = 'left'; ctx.textBaseline = 'middle';
  ctx.font = 'bold ' + size + 'px ' + FONT;
  ctx.fillText(l.text, x, yc);
  let w = ctx.measureText(l.text).width;
  if (l.sub){
    const ss = Math.round(size*0.55);
    ctx.font = 'bold ' + ss + 'px ' + FONT;
    ctx.fillText(l.sub, x + w + 1, yc + size*0.38);
    w += ctx.measureText(l.sub).width + 3;
  }
  if (l.tail){
    ctx.font = 'bold ' + size + 'px ' + FONT;
    ctx.fillText(l.tail, x + w, yc);
  }
}

const decorPlugin = {
  id: 'decor',
  beforeDatasetsDraw(chart, args, o){
    const ctx = chart.ctx, ca = chart.chartArea, xs = chart.scales.x, ys = chart.scales.y;
    const yTop = o.first ? ca.top : 0;
    const yBot = o.last ? ca.bottom : chart.height;
    ctx.save();
    const x0 = xs.getPixelForValue(SHADE_HOURS[0]), x1 = xs.getPixelForValue(SHADE_HOURS[1]);
    ctx.fillStyle = '#d9d9d9';
    ctx.fillRect(x0, yTop, x1 - x0, yBot - yTop);
    ctx.lineWidth = 4; ctx.setLineDash([42,42]);
    EVENT_HOURS.forEach((h,i) => {
      const px = Math.round(xs.getPixelForValue(h));
      ctx.strokeStyle = EVENT_COLORS[i];
      ctx.beginPath(); ctx.moveTo(px, ca.top); ctx.lineTo(px, yBot); ctx.stroke();
    });
    ctx.setLineDash([8,22]); ctx.lineWidth = 7; ctx.strokeStyle = '#000';
    (o.refLines || []).forEach(v => {
      const py = ys.getPixelForValue(v);
      ctx.beginPath(); ctx.moveTo(ca.left + 30, py); ctx.lineTo(ca.right - 30, py); ctx.stroke();
    });
    ctx.restore();
  },
  afterDraw(chart, args, o){
    const ctx = chart.ctx, ca = chart.chartArea, xs = chart.scales.x, ys = chart.scales.y;
    ctx.save();
    ctx.setLineDash([]); ctx.strokeStyle = '#000'; ctx.lineCap = 'butt';
    const line = (a,b,c,d) => { ctx.beginPath(); ctx.moveTo(a,b); ctx.lineTo(c,d); ctx.stroke(); };
    ctx.lineWidth = 7;
    const hTick = (v,len) => {
      const py = ys.getPixelForValue(v);
      if (py < ca.top - 1 || py > ca.bottom + 1) return;
      line(ca.left, py, ca.left + len, py); line(ca.right - len, py, ca.right, py);
    };
    o.minor.forEach(v => hTick(v, 27));
    o.major.forEach(v => hTick(v, 60));
    ctx.lineWidth = 5;
    for (let h = 0; h <= 48; h++){
      const px = xs.getPixelForValue(h), len = (h % 6 === 0) ? 18 : 10;
      line(px, ca.top, px, ca.top + len); line(px, ca.bottom - len, px, ca.bottom);
    }
    ctx.lineWidth = 8;
    ctx.strokeRect(ca.left, ca.top, ca.right - ca.left, ca.bottom - ca.top);
    ctx.fillStyle = '#000'; ctx.textAlign = 'center'; ctx.textBaseline = 'middle';
    ctx.font = 'bold 52px ' + FONT;
    ctx.fillText(o.letter, ca.right - 100, ca.top + 36);
    (o.labels || []).forEach(l => drawLabel(ctx, l, ca.right + 38, ca.top + l.dy));
    ctx.restore();
  }
};

const line = (data, color, width, extra) => Object.assign({
  data: toPts(data), borderColor: color, borderWidth: width, pointRadius: 0, tension: 0, fill: false
}, extra || {});

const PANELS = [
  {top:0, height:482, padTop:0, padBottom:40, title:'The Solar wind conditions from 2021-11-03 12:00 UT to 2021-11-05 12:00 UT',
   min:-22.4, max:26.9, ticks:B_TICKS, minorStep:1, yTitle:'[nT]', yTitlePad:43, ref:[0], letter:'[a]',
   datasets:[line(BZ,'#ff0000',5), line(BY,'#00ff00',5), line(BX,'#0000ff',5), line(BT,'#000000',5)],
   labels:[{text:'Bt',dy:62},{text:'Bx',color:'#0000ff',dy:129},{text:'By',color:'#00ff00',dy:207},{text:'Bz',color:'#ff0000',dy:290}]},
  {top:482, height:401, padTop:10, padBottom:40, min:290, max:867, ticks:V_TICKS, minorStep:10, yTitle:'[km/s]', yTitlePad:53, letter:'[b]',
   datasets:[line(VSW,'#000',4.5)], labels:[{text:'V',sub:'sw',size:50,dy:166}]},
  {top:883, height:402, padTop:10, padBottom:40, min:0, max:54.2, ticks:N_TICKS, minorStep:1, yTitle:'[n/cc]', yTitlePad:76, letter:'[c]',
   datasets:[line(NP,'#000',4.5)], labels:[{text:'N',sub:'p',size:50,dy:164}]},
  {top:1285, height:403, padTop:10, padBottom:41, log:true, min:2800, max:4.5e6, ticks:T_TICKS, tickLabels:T_TICK_LABELS, yTitle:'[K]', yTitlePad:62, letter:'[d]',
   datasets:[line(TEXP_HALF,'#ff0000',5,{borderDash:[6,10]}), line(TP,'#000',4.5)],
   labels:[{text:'T',sub:'p',size:50,dy:134},{text:'T',sub:'exp',tail:'/2',color:'#ff0000',size:50,dy:210}]},
  {top:1688, height:401, padTop:10, padBottom:40, log:true, min:0.01, max:456, ticks:BETA_TICKS, tickLabels:BETA_TICK_LABELS, ref:[1], letter:'[e]',
   datasets:[line(BETA,'#000',4.5)], labels:[{text:'\u03B2',size:66,dy:232}]},
  {top:2089, height:466, padTop:10, padBottom:0, last:true, min:-128, max:60.1, ticks:SYMH_TICKS, minorStep:10, yTitle:'[nT]', yTitlePad:14, ref:[0,-50,-100], letter:'[f]',
   datasets:[line(SYMH,'#000',4.5)], labels:[{text:'SymH',size:50,dy:241}]}
];

PANELS.forEach((p, idx) => {
  const cv = document.createElement('canvas');
  cv.width = 3501; cv.height = p.height;
  cv.style.top = p.top + 'px'; cv.style.width = '3501px'; cv.style.height = p.height + 'px';
  document.body.appendChild(cv);
  const tickFont = {family: FONT, size: 52, weight: 'bold'};
  new Chart(cv.getContext('2d'), {
    type: 'line',
    data: {datasets: p.datasets},
    plugins: [decorPlugin],
    options: {
      responsive: false, animation: false, devicePixelRatio: 1,
      layout: {padding: {left: 0, right: 183, top: p.padTop, bottom: p.padBottom}},
      plugins: {
        legend: {display: false}, tooltip: {enabled: false},
        title: p.title ? {display: true, text: p.title, color: '#000', fullSize: false,
                          font: {family: FONT, size: 63, weight: 'bold'}, padding: {top: 6, bottom: 8.4}} : {display: false},
        decor: {first: idx === 0, last: !!p.last, refLines: p.ref, letter: p.letter, labels: p.labels,
                major: p.ticks, minor: minorValues(p)}
      },
      scales: {
        x: {type: 'linear', min: 0, max: 48, display: !!p.last,
            grid: {display: false, drawTicks: false}, border: {display: false},
            ticks: {color: '#000', font: tickFont, padding: 20, autoSkip: false, maxRotation: 0, minRotation: 0,
                    callback: (v, i) => X_TICK_LABELS[i]},
            afterBuildTicks: sc => { sc.ticks = X_TICK_HOURS.map(v => ({value: v})); },
            afterFit: sc => { sc.height = p.last ? 102 : 0; sc.paddingLeft = 0; sc.paddingRight = 0; }},
        y: {type: p.log ? 'logarithmic' : 'linear', min: p.min, max: p.max,
            grid: {display: false, drawTicks: false}, border: {display: false},
            ticks: {color: '#000', font: tickFont, padding: 18, autoSkip: false,
                    callback: (v, i) => p.tickLabels ? p.tickLabels[i] : String(p.ticks[i])},
            afterBuildTicks: sc => { sc.ticks = p.ticks.map(v => ({value: v})); },
            afterFit: sc => { sc.width = 245; sc.paddingTop = 0; sc.paddingBottom = 0; sc.paddingLeft = 0; sc.paddingRight = 0; },
            title: p.yTitle ? {display: true, text: p.yTitle, color: '#000', font: tickFont, padding: {top: p.yTitlePad, bottom: 0}} : {display: false}}
      }
    }
  });
});
</script>
</body></html>
